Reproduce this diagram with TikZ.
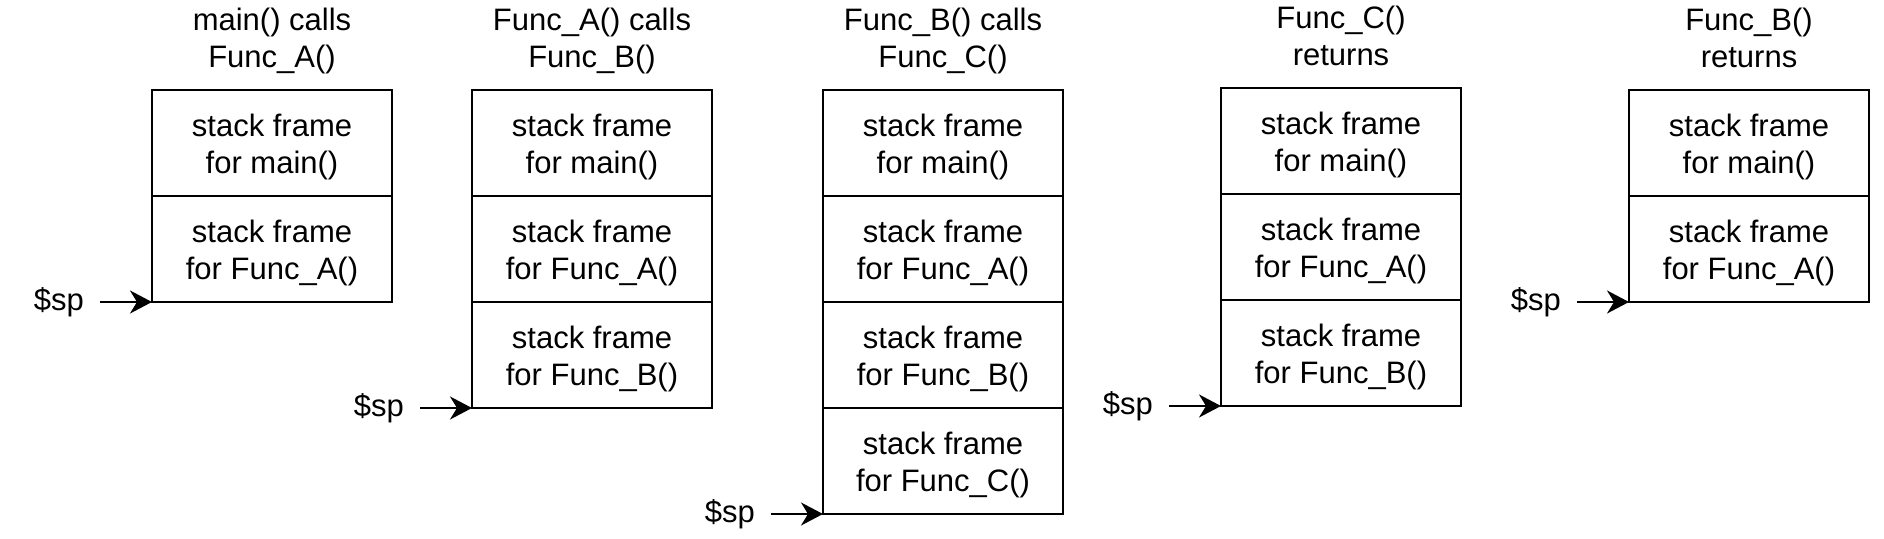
\documentclass[tikz,border=0pt]{standalone}
\usepackage{fontspec}
\setmainfont{Liberation Sans}
\usetikzlibrary{positioning,arrows.meta}

\tikzset{
  label font/.style={font=\fontsize{31}{37}\selectfont},
  frame/.style={draw,line width=2pt,minimum width=240pt,minimum height=106pt,
    inner sep=0pt,outer sep=0pt,align=center,text height=67pt,text depth=7pt,label font},
  title/.style={align=center,inner sep=0pt,text depth=7pt,label font},
  splabel/.style={inner sep=0pt,inner xsep=16pt,label font},
}

\begin{document}
\begin{tikzpicture}[x=1pt,y=-1pt]
      \useasboundingbox (0,0) rectangle (1884,538);

      \begin{scope}[every node/.style={frame}]
        \node (main1) at (272,143) {stack frame\\for main()};
        \node (fa1) [below=0pt of main1] {stack frame\\for Func\_A()};

        \node (main2) at (592,143) {stack frame\\for main()};
        \node (fa2) [below=0pt of main2] {stack frame\\for Func\_A()};
        \node (fb2) [below=0pt of fa2] {stack frame\\for Func\_B()};

        \node (main3) at (943,143) {stack frame\\for main()};
        \node (fa3) [below=0pt of main3] {stack frame\\for Func\_A()};
        \node (fb3) [below=0pt of fa3] {stack frame\\for Func\_B()};
        \node (fc3) [below=0pt of fb3] {stack frame\\for Func\_C()};

        \node (main4) at (1341,141) {stack frame\\for main()};
        \node (fa4) [below=0pt of main4] {stack frame\\for Func\_A()};
        \node (fb4) [below=0pt of fa4] {stack frame\\for Func\_B()};

        \node (main5) at (1749,143) {stack frame\\for main()};
        \node (fa5) [below=0pt of main5] {stack frame\\for Func\_A()};
      \end{scope}

      \begin{scope}[every node/.style={title}]
        \node (t1) [above=15pt of main1] {main() calls\\Func\_A()};
        \node (t2) [above=15pt of main2] {Func\_A() calls\\Func\_B()};
        \node (t3) [above=15pt of main3] {Func\_B() calls\\Func\_C()};
        \node (t4) [above=15pt of main4] {Func\_C()\\returns};
        \node (t5) [above=15pt of main5] {Func\_B()\\returns};
      \end{scope}

      \begin{scope}[every node/.style={splabel}]
        \node (sp1) [left=52pt of fa1.south west] {\$sp};
        \node (sp2) [left=52pt of fb2.south west] {\$sp};
        \node (sp3) [left=52pt of fc3.south west] {\$sp};
        \node (sp4) [left=52pt of fb4.south west] {\$sp};
        \node (sp5) [left=52pt of fa5.south west] {\$sp};

        \begin{scope}[every edge/.style={draw,line width=2pt,
            -{Stealth[length=22pt,width=23pt,inset=7pt]}}]
          \path (sp1) edge (fa1.south west);
          \path (sp2) edge (fb2.south west);
          \path (sp3) edge (fc3.south west);
          \path (sp4) edge (fb4.south west);
          \path (sp5) edge (fa5.south west);
        \end{scope}
      \end{scope}

    \end{tikzpicture}
\end{document}
